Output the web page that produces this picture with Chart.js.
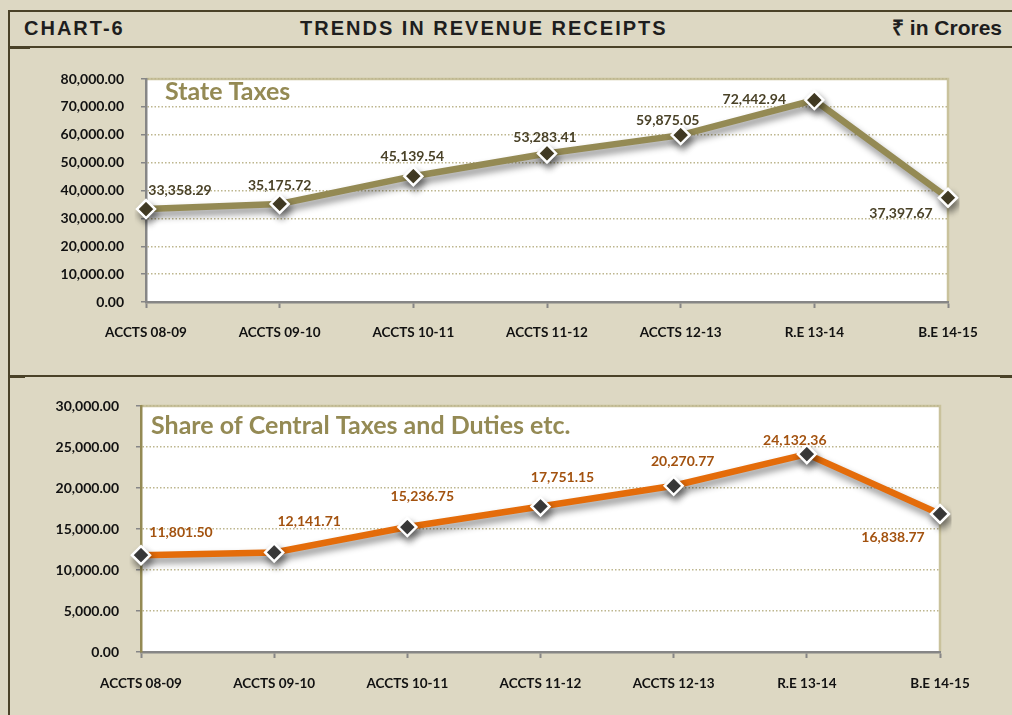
<!DOCTYPE html>
<html>
<head>
<meta charset="utf-8">
<script src="https://cdn.jsdelivr.net/npm/chart.js@4.4.1/dist/chart.umd.min.js"></script>
<style>
  html, body { margin: 0; padding: 0; }
  body { width: 1012px; height: 715px; background: #ddd8c3; position: relative; overflow: hidden; font-family: "Liberation Sans", Arial, sans-serif; }
  .hline { position: absolute; left: 8px; right: 0; height: 2px; background: #4a4228; }
  .vline { position: absolute; left: 8px; top: 11px; width: 2px; bottom: 0; background: #4a4228; }
  .nub { position: absolute; height: 3px; background: #4a4228; }
  .hd { position: absolute; top: 16px; font-weight: bold; color: #1e1e1e; font-size: 20px; line-height: 24px; }
  #c1wrap { position: absolute; left: 12px; top: 50px; width: 1000px; height: 323px; }
  #c2wrap { position: absolute; left: 12px; top: 378px; width: 1000px; height: 337px; }
</style>
</head>
<body>
<div class="hline" style="top:10px"></div>
<div class="hline" style="top:46px;height:1.5px"></div>
<div class="hline" style="top:375px;height:1.5px"></div>
<div class="nub" style="left:8px;width:22px;top:46px"></div>
<div class="nub" style="left:8px;width:17px;top:375px"></div>
<div class="nub" style="left:1000px;width:12px;top:375px"></div>
<div class="vline"></div>
<div class="hd" style="left:24px;letter-spacing:2px">CHART-6</div>
<div class="hd" style="left:300px;letter-spacing:2px">TRENDS IN REVENUE RECEIPTS</div>
<div class="hd" style="right:10px;font-size:21px">₹ in Crores</div>

<div id="c1wrap"><canvas id="stateChart" width="1000" height="323"></canvas></div>
<div id="c2wrap"><canvas id="centralChart" width="1000" height="337"></canvas></div>

<script>
var years = ['ACCTS 08-09', 'ACCTS 09-10', 'ACCTS 10-11', 'ACCTS 11-12', 'ACCTS 12-13', 'R.E 13-14', 'B.E 14-15'];
var stateTaxes = [33358.29, 35175.72, 45139.54, 53283.41, 59875.05, 72442.94, 37397.67];
var centralShare = [11801.50, 12141.71, 15236.75, 17751.15, 20270.77, 24132.36, 16838.77];
var stateTicks = {min: 0, max: 80000, step: 10000};
var centralTicks = {min: 0, max: 30000, step: 5000};

function fmt(v) {
	return Number(v).toLocaleString('en-US', {minimumFractionDigits: 2, maximumFractionDigits: 2});
}

// white plot area with light border on top and right
var plotBox = {
	id: 'plotBox',
	beforeDraw: function (chart) {
		var a = chart.chartArea, ctx = chart.ctx;
		ctx.save();
		ctx.fillStyle = '#ffffff';
		ctx.fillRect(a.left, a.top, a.right - a.left, a.bottom - a.top);
		ctx.strokeStyle = '#c9c29c';
		ctx.lineWidth = 2.5;
		ctx.beginPath();
		ctx.moveTo(a.left, a.top);
		ctx.lineTo(a.right, a.top);
		ctx.lineTo(a.right, a.bottom);
		ctx.stroke();
		ctx.restore();
	}
};

// drop shadow under the line
var lineShadow = {
	id: 'lineShadow',
	beforeDatasetDraw: function (chart) {
		var ctx = chart.ctx;
		ctx.save();
		ctx.shadowColor = 'rgba(0,0,0,0.45)';
		ctx.shadowBlur = 7;
		ctx.shadowOffsetX = 2;
		ctx.shadowOffsetY = 5;
	},
	afterDatasetDraw: function (chart) {
		chart.ctx.restore();
	}
};

// value labels + in-plot title
var valueLabels = {
	id: 'valueLabels',
	afterDatasetsDraw: function (chart, args, opts) {
		var ctx = chart.ctx;
		var meta = chart.getDatasetMeta(0);
		var data = chart.data.datasets[0].data;
		ctx.save();
		ctx.font = 'bold 14px Lato, sans-serif';
		ctx.fillStyle = opts.color;
		ctx.textAlign = 'center';
		ctx.textBaseline = 'middle';
		meta.data.forEach(function (pt, i) {
			var off = opts.offsets[i];
			ctx.fillText(fmt(data[i]), pt.x + off[0], pt.y + off[1]);
		});
		ctx.font = 'bold 25px Lato, sans-serif';
		ctx.fillStyle = '#948a54';
		ctx.textAlign = 'left';
		ctx.fillText(opts.title, chart.chartArea.left + opts.titleX, chart.chartArea.top + opts.titleY);
		ctx.restore();
	}
};

function chartSetting(labels, values, lineColor, pointColor, ticks, lay) {
	return {
		type: 'line',
		data: {
			labels: labels,
			datasets: [{
				data: values,
				borderColor: lineColor,
				borderWidth: 6.5,
				tension: 0,
				pointStyle: 'rectRot',
				pointRadius: 9,
				pointHoverRadius: 9,
				pointBackgroundColor: pointColor,
				pointBorderColor: '#ffffff',
				pointBorderWidth: 2.5
			}]
		},
		options: {
			responsive: false,
			animation: false,
			layout: {padding: {left: 0, right: lay.right, top: lay.top, bottom: 0}},
			plugins: {
				legend: {display: false},
				tooltip: {enabled: false},
				valueLabels: lay.labels
			},
			scales: {
				x: {
					offset: false,
					afterFit: function (s) { s.height = lay.xh; },
					grid: {drawOnChartArea: false, drawTicks: true, tickLength: 6, tickColor: '#868686', tickWidth: 2},
					border: {display: true, color: '#868686', width: 2.5},
					ticks: {color: '#111111', font: {family: 'Lato', weight: 'bold', size: 13.5}, padding: lay.xpad, maxRotation: 0, autoSkip: false}
				},
				y: {
					min: ticks.min,
					max: ticks.max,
					afterFit: function (s) { s.width = lay.yw; },
					grid: {color: '#bdb68e', lineWidth: 1.5, tickLength: 5, tickColor: '#868686', tickWidth: 1.5, tickBorderDash: []},
					border: {display: true, color: lay.yAxisColor, width: 2.5, dash: [1.5, 2]},
					ticks: {
						stepSize: ticks.step,
						color: '#111111',
						font: {family: 'Lato', weight: 'bold', size: 14},
						padding: 17,
						callback: function (v) { return fmt(v); }
					}
				}
			}
		},
		plugins: [plotBox, lineShadow, valueLabels]
	};
}

function chartGenerator(id, setting) {
	var ctx = document.getElementById(id);
	return new Chart(ctx, setting);
}

chartGenerator('stateChart', chartSetting(years, stateTaxes, '#948a54', '#4a4228', stateTicks, {
	right: 64, top: 29, xh: 71, yw: 134, xpad: 17, yAxisColor: '#868686',
	labels: {
		color: '#4a4228',
		title: 'State Taxes', titleX: 19, titleY: 13,
		offsets: [[34, -19], [0, -18], [-1, -20], [-2, -16], [-13, -15], [-60, -1], [-47, 16]]
	}
}));

chartGenerator('centralChart', chartSetting(years, centralShare, '#e46c0a', '#404040', centralTicks, {
	right: 72, top: 28, xh: 63, yw: 129, xpad: 18, yAxisColor: '#948a54',
	labels: {
		color: '#a3520f',
		title: 'Share of Central Taxes and Duties etc.', titleX: 10, titleY: 20,
		offsets: [[40, -23], [35, -31], [15, -31], [22, -29], [9, -24], [-12, -14], [-47, 24]]
	}
}));
</script>
</body>
</html>
